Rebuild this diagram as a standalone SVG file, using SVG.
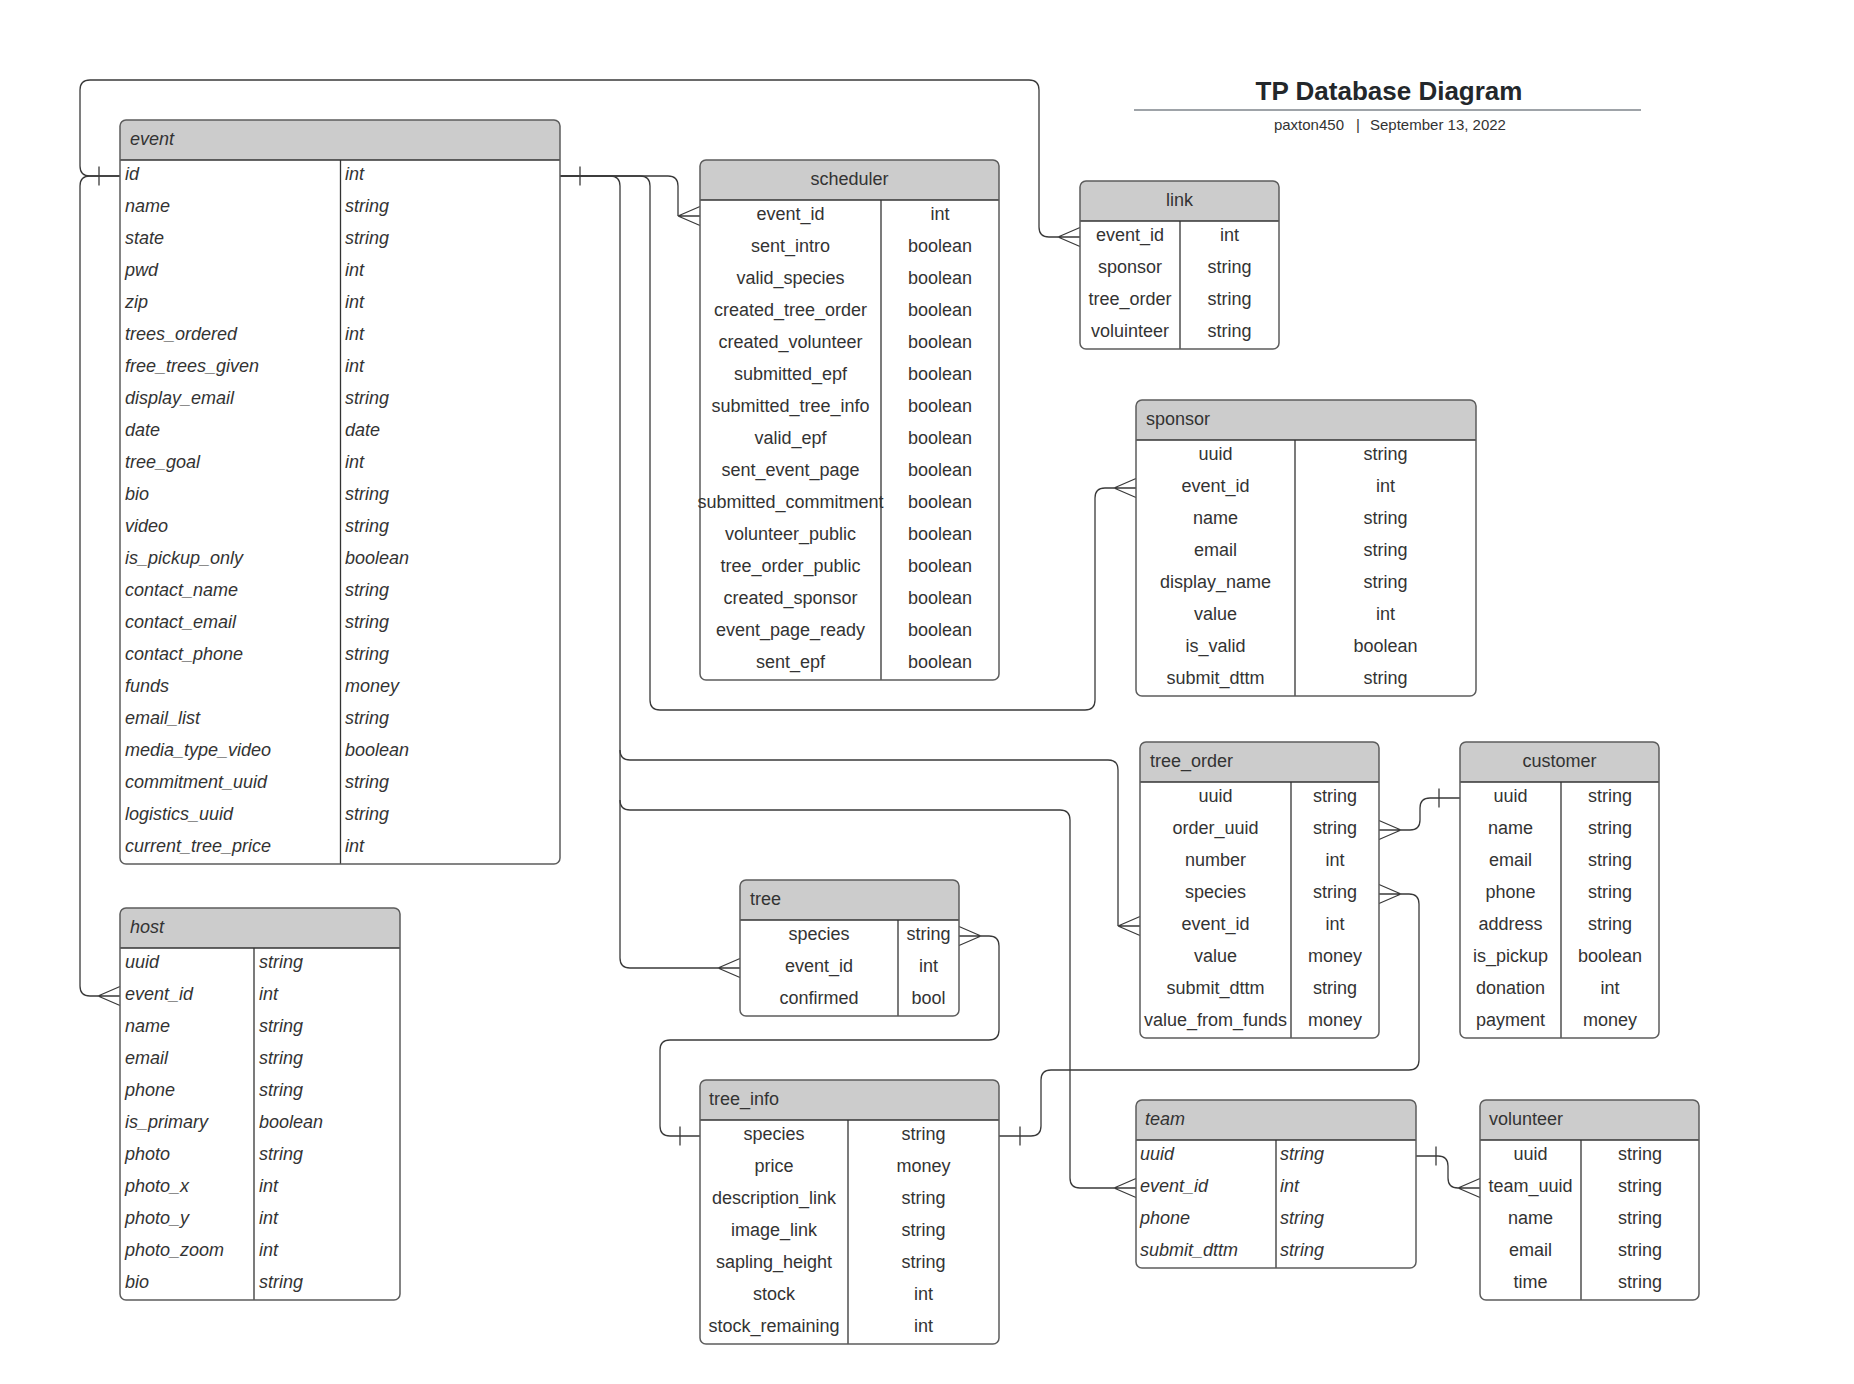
<svg xmlns="http://www.w3.org/2000/svg" xmlns:xlink="http://www.w3.org/1999/xlink" width="1854" height="1384" viewBox="0 0 1854 1384">
  <style>
    .body { fill: #ffffff; }
    .head { fill: #cccccc; }
    .frame { fill: none; stroke: #5c5c5c; stroke-width: 1.5; }
    .sep { stroke: #333333; stroke-width: 1.3; }
    .t { font-family: "Liberation Sans", Arial, sans-serif; font-size: 18px; fill: #333333; }
    .i { font-style: italic; }
    .c { text-anchor: middle; }
    .conn path, .conn line, .conn use { fill: none; stroke: #3a3a3a; stroke-width: 1.3; }
    .title { font-family: "Liberation Sans", Arial, sans-serif; font-size: 26px; font-weight: bold; fill: #23272b; }
    .sub { font-family: "Liberation Sans", Arial, sans-serif; font-size: 15px; fill: #333333; }
  </style>
  <defs>
    <!-- crow's foot, apex at origin, prongs open to the right / left -->
    <path id="crowR" d="M0,0 L22,-9.5 M0,0 L22,0 M0,0 L22,9.5"/>
    <path id="crowL" d="M0,0 L-22,-9.5 M0,0 L-22,0 M0,0 L-22,9.5"/>
    <!-- "one" bar -->
    <path id="tick" d="M0,-9.5 V9.5"/>
  </defs>

  <rect width="1854" height="1384" fill="#ffffff"/>

  <!-- title block -->
  <g id="title">
    <text class="title" x="1389" y="100" text-anchor="middle">TP Database Diagram</text>
    <line x1="1134" y1="110" x2="1641" y2="110" stroke="#9ea3a8" stroke-width="2"/>
    <text class="sub" x="1344" y="130" text-anchor="end">paxton450</text>
    <text class="sub" x="1358" y="130" text-anchor="middle">|</text>
    <text class="sub" x="1370" y="130">September 13, 2022</text>
  </g>

  <!-- connectors -->
  <g id="connectors" class="conn">
    <!-- event.id -> link.event_id -->
    <path d="M120,176 H90 Q80,176 80,166 V90 Q80,80 90,80 H1029 Q1039,80 1039,90 V227 Q1039,237 1049,237 H1058"/>
    <use href="#tick" x="99" y="176"/>
    <use href="#crowR" x="1058" y="237"/>
    <!-- event.id -> host.event_id -->
    <path d="M120,176 H90 Q80,176 80,186 V986 Q80,996 90,996 H98"/>
    <use href="#crowR" x="98" y="996"/>
    <!-- event.id -> scheduler.event_id -->
    <path d="M560,176 H668 Q678,176 678,186 V216"/>
    <use href="#tick" x="580" y="176"/>
    <use href="#crowR" x="678" y="216"/>
    <!-- event.id -> sponsor.event_id -->
    <path d="M560,176 H640 Q650,176 650,186 V700 Q650,710 660,710 H1085 Q1095,710 1095,700 V498 Q1095,488 1105,488 H1114"/>
    <use href="#crowR" x="1114" y="488"/>
    <!-- event.id -> tree.event_id -->
    <path d="M560,176 H610 Q620,176 620,186 V958 Q620,968 630,968 H718"/>
    <use href="#crowR" x="718" y="968"/>
    <!-- event.id -> tree_order.event_id -->
    <path d="M620,750 Q620,760 630,760 H1108 Q1118,760 1118,770 V926"/>
    <use href="#crowR" x="1118" y="926"/>
    <!-- event.id -> team.event_id -->
    <path d="M620,800 Q620,810 630,810 H1060 Q1070,810 1070,820 V1178 Q1070,1188 1080,1188 H1114"/>
    <use href="#crowR" x="1114" y="1188"/>
    <!-- tree.species -> tree_info.species -->
    <path d="M981,936 H989 Q999,936 999,946 V1030 Q999,1040 989,1040 H670 Q660,1040 660,1050 V1126 Q660,1136 670,1136 H700"/>
    <use href="#crowL" x="981" y="936"/>
    <use href="#tick" x="680" y="1136"/>
    <!-- tree_order.species -> tree_info.species -->
    <path d="M1401,894 H1409 Q1419,894 1419,904 V1060 Q1419,1070 1409,1070 H1051 Q1041,1070 1041,1080 V1126 Q1041,1136 1031,1136 H999"/>
    <use href="#crowL" x="1401" y="894"/>
    <use href="#tick" x="1020" y="1136"/>
    <!-- tree_order.order_uuid -> customer.uuid -->
    <path d="M1401,830 H1410 Q1420,830 1420,820 V808 Q1420,798 1430,798 H1460"/>
    <use href="#crowL" x="1401" y="830"/>
    <use href="#tick" x="1439" y="798"/>
    <!-- team.uuid -> volunteer.team_uuid -->
    <path d="M1416,1156 H1438 Q1448,1156 1448,1166 V1178 Q1448,1188 1458,1188"/>
    <use href="#tick" x="1436" y="1156"/>
    <use href="#crowR" x="1458" y="1188"/>
  </g>

  <!-- event -->
  <g id="event">
    <rect class="body" x="120" y="120" width="440" height="744" rx="6"/>
    <path class="head" d="M120,160 V126 Q120,120 126,120 H554 Q560,120 560,126 V160 Z"/>
    <line class="sep" x1="120" y1="160" x2="560" y2="160"/>
    <line class="sep" x1="340.5" y1="160" x2="340.5" y2="864"/>
    <rect class="frame" x="120" y="120" width="440" height="744" rx="6"/>
    <text class="t i" x="130" y="145">event</text>
    <g class="t i">
      <text x="125" y="180">id</text><text x="345" y="180">int</text>
      <text x="125" y="212">name</text><text x="345" y="212">string</text>
      <text x="125" y="244">state</text><text x="345" y="244">string</text>
      <text x="125" y="276">pwd</text><text x="345" y="276">int</text>
      <text x="125" y="308">zip</text><text x="345" y="308">int</text>
      <text x="125" y="340">trees_ordered</text><text x="345" y="340">int</text>
      <text x="125" y="372">free_trees_given</text><text x="345" y="372">int</text>
      <text x="125" y="404">display_email</text><text x="345" y="404">string</text>
      <text x="125" y="436">date</text><text x="345" y="436">date</text>
      <text x="125" y="468">tree_goal</text><text x="345" y="468">int</text>
      <text x="125" y="500">bio</text><text x="345" y="500">string</text>
      <text x="125" y="532">video</text><text x="345" y="532">string</text>
      <text x="125" y="564">is_pickup_only</text><text x="345" y="564">boolean</text>
      <text x="125" y="596">contact_name</text><text x="345" y="596">string</text>
      <text x="125" y="628">contact_email</text><text x="345" y="628">string</text>
      <text x="125" y="660">contact_phone</text><text x="345" y="660">string</text>
      <text x="125" y="692">funds</text><text x="345" y="692">money</text>
      <text x="125" y="724">email_list</text><text x="345" y="724">string</text>
      <text x="125" y="756">media_type_video</text><text x="345" y="756">boolean</text>
      <text x="125" y="788">commitment_uuid</text><text x="345" y="788">string</text>
      <text x="125" y="820">logistics_uuid</text><text x="345" y="820">string</text>
      <text x="125" y="852">current_tree_price</text><text x="345" y="852">int</text>
    </g>
  </g>

  <!-- scheduler -->
  <g id="scheduler">
    <rect class="body" x="700" y="160" width="299" height="520" rx="6"/>
    <path class="head" d="M700,200 V166 Q700,160 706,160 H993 Q999,160 999,166 V200 Z"/>
    <line class="sep" x1="700" y1="200" x2="999" y2="200"/>
    <line class="sep" x1="881" y1="200" x2="881" y2="680"/>
    <rect class="frame" x="700" y="160" width="299" height="520" rx="6"/>
    <text class="t c" x="849.5" y="185">scheduler</text>
    <g class="t c">
      <text x="790.5" y="220">event_id</text><text x="940" y="220">int</text>
      <text x="790.5" y="252">sent_intro</text><text x="940" y="252">boolean</text>
      <text x="790.5" y="284">valid_species</text><text x="940" y="284">boolean</text>
      <text x="790.5" y="316">created_tree_order</text><text x="940" y="316">boolean</text>
      <text x="790.5" y="348">created_volunteer</text><text x="940" y="348">boolean</text>
      <text x="790.5" y="380">submitted_epf</text><text x="940" y="380">boolean</text>
      <text x="790.5" y="412">submitted_tree_info</text><text x="940" y="412">boolean</text>
      <text x="790.5" y="444">valid_epf</text><text x="940" y="444">boolean</text>
      <text x="790.5" y="476">sent_event_page</text><text x="940" y="476">boolean</text>
      <text x="790.5" y="508">submitted_commitment</text><text x="940" y="508">boolean</text>
      <text x="790.5" y="540">volunteer_public</text><text x="940" y="540">boolean</text>
      <text x="790.5" y="572">tree_order_public</text><text x="940" y="572">boolean</text>
      <text x="790.5" y="604">created_sponsor</text><text x="940" y="604">boolean</text>
      <text x="790.5" y="636">event_page_ready</text><text x="940" y="636">boolean</text>
      <text x="790.5" y="668">sent_epf</text><text x="940" y="668">boolean</text>
    </g>
  </g>

  <!-- link -->
  <g id="link">
    <rect class="body" x="1080" y="181" width="199" height="168" rx="6"/>
    <path class="head" d="M1080,221 V187 Q1080,181 1086,181 H1273 Q1279,181 1279,187 V221 Z"/>
    <line class="sep" x1="1080" y1="221" x2="1279" y2="221"/>
    <line class="sep" x1="1180" y1="221" x2="1180" y2="349"/>
    <rect class="frame" x="1080" y="181" width="199" height="168" rx="6"/>
    <text class="t c" x="1179.5" y="206">link</text>
    <g class="t c">
      <text x="1130" y="241">event_id</text><text x="1229.5" y="241">int</text>
      <text x="1130" y="273">sponsor</text><text x="1229.5" y="273">string</text>
      <text x="1130" y="305">tree_order</text><text x="1229.5" y="305">string</text>
      <text x="1130" y="337">voluinteer</text><text x="1229.5" y="337">string</text>
    </g>
  </g>

  <!-- sponsor -->
  <g id="sponsor">
    <rect class="body" x="1136" y="400" width="340" height="296" rx="6"/>
    <path class="head" d="M1136,440 V406 Q1136,400 1142,400 H1470 Q1476,400 1476,406 V440 Z"/>
    <line class="sep" x1="1136" y1="440" x2="1476" y2="440"/>
    <line class="sep" x1="1295" y1="440" x2="1295" y2="696"/>
    <rect class="frame" x="1136" y="400" width="340" height="296" rx="6"/>
    <text class="t" x="1146" y="425">sponsor</text>
    <g class="t c">
      <text x="1215.5" y="460">uuid</text><text x="1385.5" y="460">string</text>
      <text x="1215.5" y="492">event_id</text><text x="1385.5" y="492">int</text>
      <text x="1215.5" y="524">name</text><text x="1385.5" y="524">string</text>
      <text x="1215.5" y="556">email</text><text x="1385.5" y="556">string</text>
      <text x="1215.5" y="588">display_name</text><text x="1385.5" y="588">string</text>
      <text x="1215.5" y="620">value</text><text x="1385.5" y="620">int</text>
      <text x="1215.5" y="652">is_valid</text><text x="1385.5" y="652">boolean</text>
      <text x="1215.5" y="684">submit_dttm</text><text x="1385.5" y="684">string</text>
    </g>
  </g>

  <!-- tree_order -->
  <g id="tree_order">
    <rect class="body" x="1140" y="742" width="239" height="296" rx="6"/>
    <path class="head" d="M1140,782 V748 Q1140,742 1146,742 H1373 Q1379,742 1379,748 V782 Z"/>
    <line class="sep" x1="1140" y1="782" x2="1379" y2="782"/>
    <line class="sep" x1="1291" y1="782" x2="1291" y2="1038"/>
    <rect class="frame" x="1140" y="742" width="239" height="296" rx="6"/>
    <text class="t" x="1150" y="767">tree_order</text>
    <g class="t c">
      <text x="1215.5" y="802">uuid</text><text x="1335" y="802">string</text>
      <text x="1215.5" y="834">order_uuid</text><text x="1335" y="834">string</text>
      <text x="1215.5" y="866">number</text><text x="1335" y="866">int</text>
      <text x="1215.5" y="898">species</text><text x="1335" y="898">string</text>
      <text x="1215.5" y="930">event_id</text><text x="1335" y="930">int</text>
      <text x="1215.5" y="962">value</text><text x="1335" y="962">money</text>
      <text x="1215.5" y="994">submit_dttm</text><text x="1335" y="994">string</text>
      <text x="1215.5" y="1026">value_from_funds</text><text x="1335" y="1026">money</text>
    </g>
  </g>

  <!-- customer -->
  <g id="customer">
    <rect class="body" x="1460" y="742" width="199" height="296" rx="6"/>
    <path class="head" d="M1460,782 V748 Q1460,742 1466,742 H1653 Q1659,742 1659,748 V782 Z"/>
    <line class="sep" x1="1460" y1="782" x2="1659" y2="782"/>
    <line class="sep" x1="1561" y1="782" x2="1561" y2="1038"/>
    <rect class="frame" x="1460" y="742" width="199" height="296" rx="6"/>
    <text class="t c" x="1559.5" y="767">customer</text>
    <g class="t c">
      <text x="1510.5" y="802">uuid</text><text x="1610" y="802">string</text>
      <text x="1510.5" y="834">name</text><text x="1610" y="834">string</text>
      <text x="1510.5" y="866">email</text><text x="1610" y="866">string</text>
      <text x="1510.5" y="898">phone</text><text x="1610" y="898">string</text>
      <text x="1510.5" y="930">address</text><text x="1610" y="930">string</text>
      <text x="1510.5" y="962">is_pickup</text><text x="1610" y="962">boolean</text>
      <text x="1510.5" y="994">donation</text><text x="1610" y="994">int</text>
      <text x="1510.5" y="1026">payment</text><text x="1610" y="1026">money</text>
    </g>
  </g>

  <!-- tree -->
  <g id="tree">
    <rect class="body" x="740" y="880" width="219" height="136" rx="6"/>
    <path class="head" d="M740,920 V886 Q740,880 746,880 H953 Q959,880 959,886 V920 Z"/>
    <line class="sep" x1="740" y1="920" x2="959" y2="920"/>
    <line class="sep" x1="898" y1="920" x2="898" y2="1016"/>
    <rect class="frame" x="740" y="880" width="219" height="136" rx="6"/>
    <text class="t" x="750" y="905">tree</text>
    <g class="t c">
      <text x="819" y="940">species</text><text x="928.5" y="940">string</text>
      <text x="819" y="972">event_id</text><text x="928.5" y="972">int</text>
      <text x="819" y="1004">confirmed</text><text x="928.5" y="1004">bool</text>
    </g>
  </g>

  <!-- host -->
  <g id="host">
    <rect class="body" x="120" y="908" width="280" height="392" rx="6"/>
    <path class="head" d="M120,948 V914 Q120,908 126,908 H394 Q400,908 400,914 V948 Z"/>
    <line class="sep" x1="120" y1="948" x2="400" y2="948"/>
    <line class="sep" x1="254" y1="948" x2="254" y2="1300"/>
    <rect class="frame" x="120" y="908" width="280" height="392" rx="6"/>
    <text class="t i" x="130" y="933">host</text>
    <g class="t i">
      <text x="125" y="968">uuid</text><text x="259" y="968">string</text>
      <text x="125" y="1000">event_id</text><text x="259" y="1000">int</text>
      <text x="125" y="1032">name</text><text x="259" y="1032">string</text>
      <text x="125" y="1064">email</text><text x="259" y="1064">string</text>
      <text x="125" y="1096">phone</text><text x="259" y="1096">string</text>
      <text x="125" y="1128">is_primary</text><text x="259" y="1128">boolean</text>
      <text x="125" y="1160">photo</text><text x="259" y="1160">string</text>
      <text x="125" y="1192">photo_x</text><text x="259" y="1192">int</text>
      <text x="125" y="1224">photo_y</text><text x="259" y="1224">int</text>
      <text x="125" y="1256">photo_zoom</text><text x="259" y="1256">int</text>
      <text x="125" y="1288">bio</text><text x="259" y="1288">string</text>
    </g>
  </g>

  <!-- tree_info -->
  <g id="tree_info">
    <rect class="body" x="700" y="1080" width="299" height="264" rx="6"/>
    <path class="head" d="M700,1120 V1086 Q700,1080 706,1080 H993 Q999,1080 999,1086 V1120 Z"/>
    <line class="sep" x1="700" y1="1120" x2="999" y2="1120"/>
    <line class="sep" x1="848" y1="1120" x2="848" y2="1344"/>
    <rect class="frame" x="700" y="1080" width="299" height="264" rx="6"/>
    <text class="t" x="709" y="1105">tree_info</text>
    <g class="t c">
      <text x="774" y="1140">species</text><text x="923.5" y="1140">string</text>
      <text x="774" y="1172">price</text><text x="923.5" y="1172">money</text>
      <text x="774" y="1204">description_link</text><text x="923.5" y="1204">string</text>
      <text x="774" y="1236">image_link</text><text x="923.5" y="1236">string</text>
      <text x="774" y="1268">sapling_height</text><text x="923.5" y="1268">string</text>
      <text x="774" y="1300">stock</text><text x="923.5" y="1300">int</text>
      <text x="774" y="1332">stock_remaining</text><text x="923.5" y="1332">int</text>
    </g>
  </g>

  <!-- team -->
  <g id="team">
    <rect class="body" x="1136" y="1100" width="280" height="168" rx="6"/>
    <path class="head" d="M1136,1140 V1106 Q1136,1100 1142,1100 H1410 Q1416,1100 1416,1106 V1140 Z"/>
    <line class="sep" x1="1136" y1="1140" x2="1416" y2="1140"/>
    <line class="sep" x1="1276" y1="1140" x2="1276" y2="1268"/>
    <rect class="frame" x="1136" y="1100" width="280" height="168" rx="6"/>
    <text class="t i" x="1145" y="1125">team</text>
    <g class="t i">
      <text x="1140" y="1160">uuid</text><text x="1280" y="1160">string</text>
      <text x="1140" y="1192">event_id</text><text x="1280" y="1192">int</text>
      <text x="1140" y="1224">phone</text><text x="1280" y="1224">string</text>
      <text x="1140" y="1256">submit_dttm</text><text x="1280" y="1256">string</text>
    </g>
  </g>

  <!-- volunteer -->
  <g id="volunteer">
    <rect class="body" x="1480" y="1100" width="219" height="200" rx="6"/>
    <path class="head" d="M1480,1140 V1106 Q1480,1100 1486,1100 H1693 Q1699,1100 1699,1106 V1140 Z"/>
    <line class="sep" x1="1480" y1="1140" x2="1699" y2="1140"/>
    <line class="sep" x1="1581" y1="1140" x2="1581" y2="1300"/>
    <rect class="frame" x="1480" y="1100" width="219" height="200" rx="6"/>
    <text class="t" x="1489" y="1125">volunteer</text>
    <g class="t c">
      <text x="1530.5" y="1160">uuid</text><text x="1640" y="1160">string</text>
      <text x="1530.5" y="1192">team_uuid</text><text x="1640" y="1192">string</text>
      <text x="1530.5" y="1224">name</text><text x="1640" y="1224">string</text>
      <text x="1530.5" y="1256">email</text><text x="1640" y="1256">string</text>
      <text x="1530.5" y="1288">time</text><text x="1640" y="1288">string</text>
    </g>
  </g>
</svg>
